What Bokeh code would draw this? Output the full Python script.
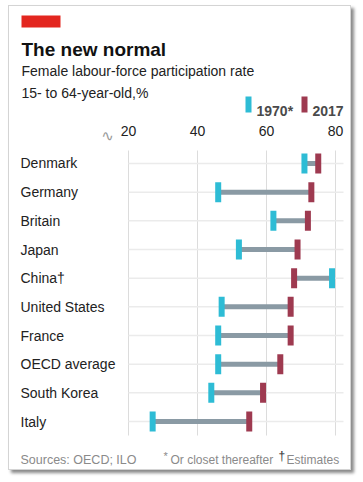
from bokeh.plotting import figure
from bokeh.models import (Range1d, ColumnDataSource, Label, LabelSet, BoxAnnotation)
from bokeh.core.properties import value
from bokeh.embed import file_html
from bokeh.resources import INLINE

countries = ["Denmark", "Germany", "Britain", "Japan", "China\u2020", "United States",
             "France", "OECD average", "South Korea", "Italy"]
v1970 = [71.0, 46.0, 62.0, 52.0, 79.0, 47.0, 46.0, 46.0, 44.0, 27.0]
v2017 = [75.0, 73.0, 72.0, 69.0, 68.0, 67.0, 67.0, 64.0, 59.0, 55.0]
ticks = [20, 40, 60, 80]
tick_labels = ["20", "40", "60", "80"]

rows = list(range(len(countries)))
src = ColumnDataSource(dict(c=countries, y=rows, a=v1970, b=v2017))

W, H = 343, 465
FONT = "Liberation Sans"

# plotting region (data units) inside a frame that covers the whole card
XMIN, XMAX = 20, 82.32
YTOP, YBOT = -0.453, 9.488
# whole-canvas ranges: 3.45 px per unit in x, 28.67 px per row in y
p = figure(width=W, height=H, output_backend="svg", toolbar_location=None,
           x_range=Range1d(-14.493, 84.928), y_range=Range1d(10.743, -5.476),
           min_border=0, x_axis_location=None, y_axis_location=None)
p.outline_line_color = None
p.background_fill_color = "white"
p.border_fill_color = "white"
p.xgrid.visible = False
p.ygrid.visible = False
p.styles = {"margin-left": "8px", "margin-top": "5px",
            "border": "1px solid #d4d4d4", "box-shadow": "3px 3px 3px #8a8a8a"}

# vertical grid lines
p.segment(x0=ticks, x1=ticks, y0=[YTOP] * 4, y1=[YBOT] * 4,
          line_color="#dcdcdc", line_width=1)
# horizontal row lines
p.segment(x0=[XMIN] * len(rows), x1=[XMAX] * len(rows), y0=rows, y1=rows,
          line_color="#ebebeb", line_width=1.5)

# dumbbells
p.segment(x0="a", x1="b", y0="y", y1="y", source=src, line_color="#8a9aa4", line_width=5)
p.rect(x="a", y="y", width=6, height=20, width_units="screen", height_units="screen",
       source=src, fill_color="#2ebcd5", line_color=None)
p.rect(x="b", y="y", width=6, height=20, width_units="screen", height_units="screen",
       source=src, fill_color="#9e3a50", line_color=None)

# country labels
p.add_layout(LabelSet(x=11, y="y", text="c", source=src, x_units="screen",
                      y_units="data", text_align="left", text_baseline="middle",
                      text_font=value(FONT), text_font_size=value("14px"),
                      text_color=value("#222222")))

# tick labels (top)
tsrc = ColumnDataSource(dict(x=ticks, t=tick_labels))
p.add_layout(LabelSet(x="x", y=336, text="t", source=tsrc, x_units="data",
                      y_units="screen", text_align="center", text_baseline="alphabetic",
                      text_font=value(FONT), text_font_size=value("14px"),
                      text_color=value("#222222")))


def lab(x, y, t, size, color="#222222", style="normal", font=FONT, align="left"):
    p.add_layout(Label(x=x, y=y, x_units="screen", y_units="screen", text=t,
                       text_font=font, text_font_size=size, text_color=color,
                       text_font_style=style, text_align=align,
                       text_baseline="alphabetic"))


def box(l, r, t, b, color):
    p.add_layout(BoxAnnotation(left=l, right=r, top=t, bottom=b,
                               left_units="screen", right_units="screen",
                               top_units="screen", bottom_units="screen",
                               fill_color=color, fill_alpha=1, line_color=None))


# red tag
box(12, 51, 456, 444, "#e3261f")

lab(12, 422, "The new normal", "19px", "#111111", "bold")
lab(12, 401, "Female labour-force participation rate", "14px", "#222222")
lab(12, 379, "15- to 64-year-old,%", "14px", "#222222")

# legend
box(236, 242, 375, 359, "#2ebcd5")
box(292, 298, 375, 359, "#9e3a50")
lab(247, 361, "1970*", "14px", "#4a4a4a", "bold")
lab(303, 361, "2017", "14px", "#4a4a4a", "bold")

# axis break mark
lab(98, 336, "\u223f", "15px", "#999999", font="DejaVu Sans", align="center")

lab(11, 12, "Sources: OECD; ILO", "12.5px", "#8a8a8a")
lab(154, 16, "*", "11px", "#8a8a8a")
lab(161, 12, "Or closet thereafter", "12px", "#8a8a8a")
lab(269, 16, "\u2020", "12px", "#333333")
lab(277, 12, "Estimates", "12px", "#8a8a8a")

open("out.html", "w").write(file_html(p, INLINE))
